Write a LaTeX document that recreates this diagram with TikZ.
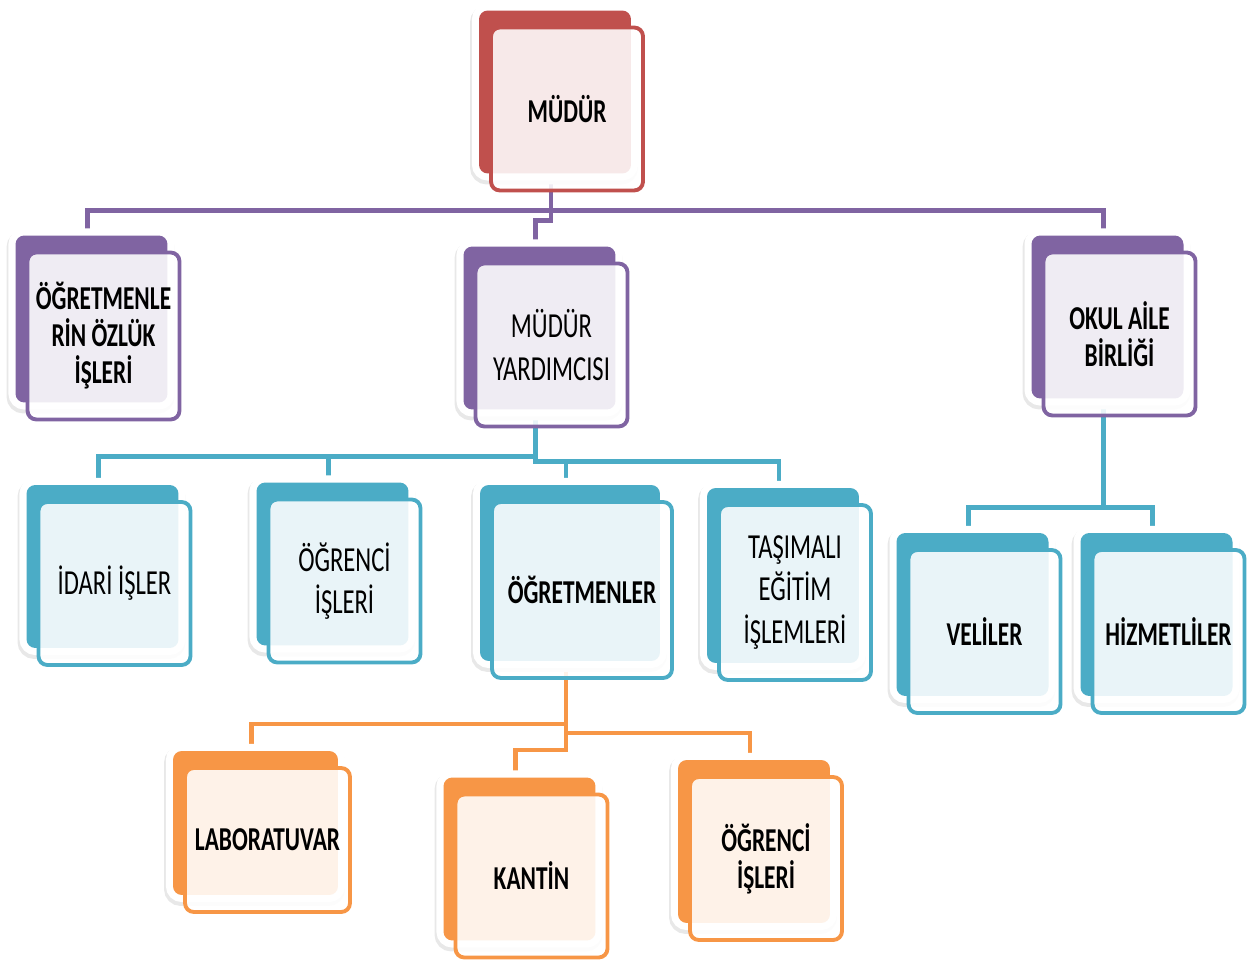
\documentclass[tikz,border=0pt]{standalone}
\usepackage{fontspec}
\newfontfamily\boxfont[FakeStretch=0.7]{Carlito}
\pgfdeclarelayer{background}
\pgfsetlayers{background,main}
\definecolor{mred}{HTML}{C0504D}
\definecolor{mpurple}{HTML}{8064A2}
\definecolor{mcyan}{HTML}{4BACC6}
\definecolor{morange}{HTML}{F79646}

\begin{document}
\begin{tikzpicture}[
    x=0.02cm, y=-0.02cm,
    unit/.style={
      draw=#1, line width=2.2pt, rounded corners=5pt, fill=white, fill opacity=0.88,
      text opacity=1, align=center, inner sep=2pt,
      minimum width=3.04cm, minimum height=3.26cm,
      font=\boxfont\fontsize{20}{24}\selectfont,
      preaction={draw=black!9, line width=9pt,
        transform canvas={xshift=-0.26cm, yshift=0.28cm}},
      preaction={draw=white, line width=8pt,
        transform canvas={xshift=-0.24cm, yshift=0.34cm}},
      preaction={draw=none, fill=#1, fill opacity=1,
        transform canvas={xshift=-0.24cm, yshift=0.34cm}}
    },
    bunit/.style={unit=#1, font=\boxfont\bfseries\fontsize{19}{21}\selectfont},
    link/.style={line width=2.6pt, draw=#1},
  ]
  \useasboundingbox (0,0) rectangle (1254,962);

  \node[bunit=mred] (mudur) at (567,109) {MÜDÜR};
  \node[bunit=mpurple, minimum height=3.34cm] (ozluk) at (103.5,336) {ÖĞRETMENLE\\RİN ÖZLÜK\\İŞLERİ};
  \node[unit=mpurple] (yardimci) at (551.5,345) {MÜDÜR\\YARDIMCISI};
  \node[bunit=mpurple] (okul) at (1119.5,334) {OKUL AİLE\\BİRLİĞİ};

  \node[unit=mcyan] (idari) at (114.5,583.5) {İDARİ İŞLER};
  \node[unit=mcyan] (ogrenci) at (344.5,581) {ÖĞRENCİ\\İŞLERİ};
  \node[bunit=mcyan, minimum width=3.6cm, minimum height=3.52cm] (ogretmen) at (582,590) {ÖĞRETMENLER};
  \node[unit=mcyan, minimum height=3.5cm] (tasimali) at (795,592.5) {TAŞIMALI\\EĞİTİM\\İŞLEMLERİ};
  \node[bunit=mcyan] (veli) at (984.5,631.5) {VELİLER};
  \node[bunit=mcyan] (hizmet) at (1168.5,631.5) {HİZMETLİLER};

  \node[bunit=morange, minimum width=3.3cm, minimum height=2.88cm] (lab) at (267.5,840) {LABORATUVAR};
  \node[bunit=morange] (kantin) at (531.5,876) {KANTİN};
  \node[bunit=morange] (ogrenci2) at (766,858.5) {ÖĞRENCİ\\İŞLERİ};

  \begin{pgfonlayer}{background}
    % purple level
    \draw[link=mpurple] ([xshift=-0.32cm]mudur.center) -- ([xshift=-0.32cm, yshift=-0.36cm]mudur.south) coordinate (mtop);
    \draw[link=mpurple] ([xshift=-0.32cm]ozluk.north) |- (mtop) -| ([xshift=-0.32cm]okul.north);
    \draw[link=mpurple] (mtop) -- ++(0,10) -| ([xshift=-0.32cm]yardimci.north);
    % cyan level
    \draw[link=mcyan] ([xshift=-0.32cm]yardimci.center) -- ([xshift=-0.32cm, yshift=-0.56cm]yardimci.south) coordinate (ytop);
    \draw[link=mcyan] ([xshift=-0.32cm]idari.north) |- (ytop);
    \draw[link=mcyan] ([xshift=-0.32cm]ogrenci.north) |- (ytop);
    \draw[link=mcyan] (ytop) -- ++(0,5) coordinate (ytop2) -| ([xshift=-0.32cm]tasimali.north);
    \draw[link=mcyan] ([xshift=-0.32cm]ogretmen.north) |- (ytop2);
    \draw[link=mcyan] ([xshift=-0.32cm]okul.center) -- ([xshift=-0.32cm, yshift=-1.8cm]okul.south) coordinate (otop);
    \draw[link=mcyan] ([xshift=-0.32cm]veli.north) |- (otop) -| ([xshift=-0.32cm]hizmet.north);
    % orange level
    \draw[link=morange] ([xshift=-0.32cm]ogretmen.center) -- ([xshift=-0.32cm, yshift=-0.88cm]ogretmen.south) coordinate (gtop);
    \draw[link=morange] ([xshift=-0.32cm]lab.north) |- (gtop);
    \draw[link=morange] (gtop) -- ++(0,9) coordinate (gmid) -| ([xshift=-0.32cm]ogrenci2.north);
    \draw[link=morange] (gmid) -- ++(0,17) -| ([xshift=-0.32cm]kantin.north);
  \end{pgfonlayer}
\end{tikzpicture}
\end{document}
